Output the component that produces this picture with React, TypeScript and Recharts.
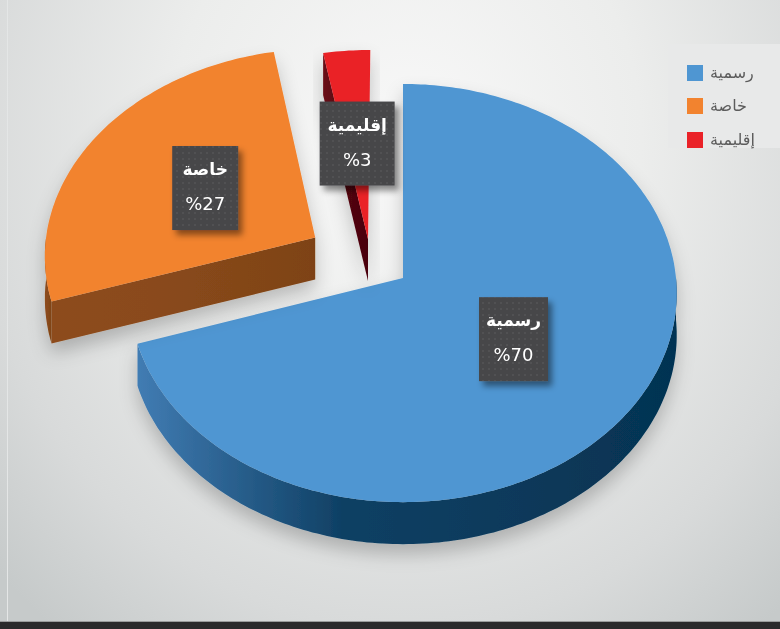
import React from 'react'
import { PieChart, Pie, Cell, Legend } from 'recharts'

// categories and their shares (%)
const categories = ['رسمية', 'خاصة', 'إقليمية']
const shares = [70, 27, 3]

const TOP_COLORS = ['#4f96d2', '#f2832f', '#ea2228']
// side walls: gradient stops left -> right
const SIDE_STOPS = [
    ['#417cb3', '#0f4064', '#053352'],
    ['#8d4c1c', '#8a4a1b', '#7e4317'],
    ['#6b0c15', '#55070f', '#4a050c'],
]
// explode offset of each slice on the disk plane (x right, y away from viewer), in radius units
const EXPLODE = [[0, 0], [-0.326, 0.197], [-0.13, 0.19]]

const TILT = 0.762 // vertical squash of the disk
const PERSP = 0.072 // far side is drawn a bit smaller
const DEPTH = 42 // thickness of the pie in px
const LABEL_POS = 0.49

const FONT = "'DejaVu Sans', 'Noto Sans', sans-serif"

const pieData = categories.map((name, i) => ({ name, value: shares[i] }))

function project(cx: number, cy: number, R: number, u: number, v: number) {
    const s = 1 / (1 + PERSP * v)
    return [cx + u * R * s, cy - v * R * TILT * s]
}

const toPath = (pts: number[][]) =>
    'M' + pts.map(p => p[0].toFixed(1) + ',' + p[1].toFixed(1)).join('L') + 'Z'

function Slice3D(props: any) {
    const { cx, cy, outerRadius: R, startAngle, endAngle, fill } = props
    const name = props.name ?? props.payload?.name
    const idx = Math.max(0, categories.indexOf(name))
    const [eu, ev] = EXPLODE[idx]
    const lo = Math.min(startAngle, endAngle)
    const hi = Math.max(startAngle, endAngle)

    const pt = (f: number, a: number) => {
        const r = (a * Math.PI) / 180
        return project(cx, cy, R, eu + f * Math.cos(r), ev + f * Math.sin(r))
    }
    const arc = (a0: number, a1: number) => {
        const n = Math.max(2, Math.ceil(Math.abs(a1 - a0)))
        const out: number[][] = []
        for (let k = 0; k <= n; k++) out.push(pt(1, a0 + ((a1 - a0) * k) / n))
        return out
    }
    const down = (p: number[]) => [p[0], p[1] + DEPTH]

    const walls: string[] = []
    // outer wall, only the part that faces the viewer (sin < 0)
    for (let k = -2; k <= 2; k++) {
        const a0 = Math.max(lo, k * 360 - 180)
        const a1 = Math.min(hi, k * 360)
        if (a1 > a0) {
            const top = arc(a0, a1)
            walls.push(toPath([...top, ...top.slice().reverse().map(down)]))
        }
    }
    // radial walls
    const center = pt(0, 0)
    const radial: [number, number][] = [[lo, lo - 90], [hi, hi + 90]]
    radial.forEach(([a, n]) => {
        if (Math.sin((n * Math.PI) / 180) < -0.01) {
            const o = pt(1, a)
            walls.push(toPath([center, o, down(o), down(center)]))
        }
    })

    const stops = SIDE_STOPS[idx]
    return (
        <g filter={`url(#shadow-${idx})`}>
            <defs>
                <linearGradient id={`side-${idx}`} x1="0" y1="0" x2="1" y2="0">
                    <stop offset="0" stopColor={stops[0]} />
                    <stop offset="0.38" stopColor={stops[1]} />
                    <stop offset="1" stopColor={stops[2]} />
                </linearGradient>
                <filter id={`shadow-${idx}`} x="-20%" y="-20%" width="140%" height="150%">
                    <feDropShadow dx="0" dy="10" stdDeviation="9" floodColor="#000" floodOpacity="0.22" />
                </filter>
            </defs>
            {walls.map((d, k) => (
                <path key={k} d={d} fill={`url(#side-${idx})`} />
            ))}
            <path d={toPath([center, ...arc(lo, hi)])} fill={fill} />
        </g>
    )
}

function SliceLabel(props: any) {
    const { cx, cy, outerRadius: R, midAngle } = props
    const name = props.name ?? props.payload?.name
    const index = Math.max(0, categories.indexOf(name))
    const [eu, ev] = EXPLODE[index]
    const a = (midAngle * Math.PI) / 180
    const [x, y] = project(cx, cy, R, eu + LABEL_POS * Math.cos(a), ev + LABEL_POS * Math.sin(a))
    const w = 66 + (name.length - 4) * 3
    const h = 84
    return (
        <g>
            <defs>
                <pattern id={`dots-${index}`} width="6" height="6" patternUnits="userSpaceOnUse">
                    <circle cx="3" cy="3" r="0.8" fill="#5d5d60" />
                </pattern>
                <filter id={`boxshadow-${index}`} x="-30%" y="-30%" width="170%" height="170%">
                    <feDropShadow dx="4" dy="5" stdDeviation="3" floodColor="#000" floodOpacity="0.45" />
                </filter>
            </defs>
            <rect x={x - w / 2} y={y - h / 2} width={w} height={h} fill="#47474a" filter={`url(#boxshadow-${index})`} />
            <rect x={x - w / 2} y={y - h / 2} width={w} height={h} fill={`url(#dots-${index})`} />
            <text x={x} y={y - 13} textAnchor="middle" fill="#ffffff" fontSize={17} fontWeight="bold" fontFamily={FONT}>
                {name}
            </text>
            <text x={x} y={y + 22} textAnchor="middle" fill="#ffffff" fontSize={18} fontFamily={FONT}>
                {`%${shares[index]}`}
            </text>
        </g>
    )
}

function LegendBox() {
    return (
        <div style={{ width: 112, height: 104, background: '#e8e9e9', boxSizing: 'border-box', paddingTop: 12 }}>
            {categories.map((name, i) => (
                <div key={name} style={{ display: 'flex', alignItems: 'center', height: 33.5, paddingLeft: 19 }}>
                    <div style={{ width: 16, height: 16, background: TOP_COLORS[i] }} />
                    <span style={{ marginLeft: 7, fontFamily: FONT, fontSize: 16, color: '#5c5c5c', lineHeight: '16px' }}>
                        {name}
                    </span>
                </div>
            ))}
        </div>
    )
}

export default function App() {
    return (
        <div
            style={{
                position: 'fixed',
                left: 0,
                top: 0,
                width: 780,
                height: 629,
                overflow: 'hidden',
                fontFamily: FONT,
                background: 'radial-gradient(ellipse 72% 100% at 52% 22%, #f8f8f8 0%, #ecedec 42%, #d8dada 78%, #c6caca 100%)',
            }}
        >
            <div style={{ position: 'absolute', left: 7, top: 0, width: 1, height: 622, background: '#e4e6e6' }} />
            <div style={{ position: 'absolute', left: 0, top: 621, width: 780, height: 1, background: '#9a9c9c' }} />
            <div style={{ position: 'absolute', left: 0, top: 622, width: 780, height: 7, background: '#2a2a2b' }} />
            <PieChart width={780} height={629} margin={{ top: 0, right: 0, bottom: 0, left: 0 }}>
                <Pie
                    data={pieData}
                    dataKey="value"
                    nameKey="name"
                    cx={403}
                    cy={278}
                    outerRadius={273}
                    startAngle={90}
                    endAngle={-270}
                    stroke="none"
                    shape={Slice3D}
                    label={SliceLabel}
                    labelLine={false}
                    isAnimationActive={false}
                >
                    {pieData.map((d, i) => (
                        <Cell key={d.name} fill={TOP_COLORS[i]} />
                    ))}
                </Pie>
                <Legend
                    layout="vertical"
                    align="right"
                    verticalAlign="top"
                    content={LegendBox}
                    wrapperStyle={{ position: 'absolute', left: 668, top: 44, width: 112, height: 104 }}
                />
            </PieChart>
        </div>
    )
}
